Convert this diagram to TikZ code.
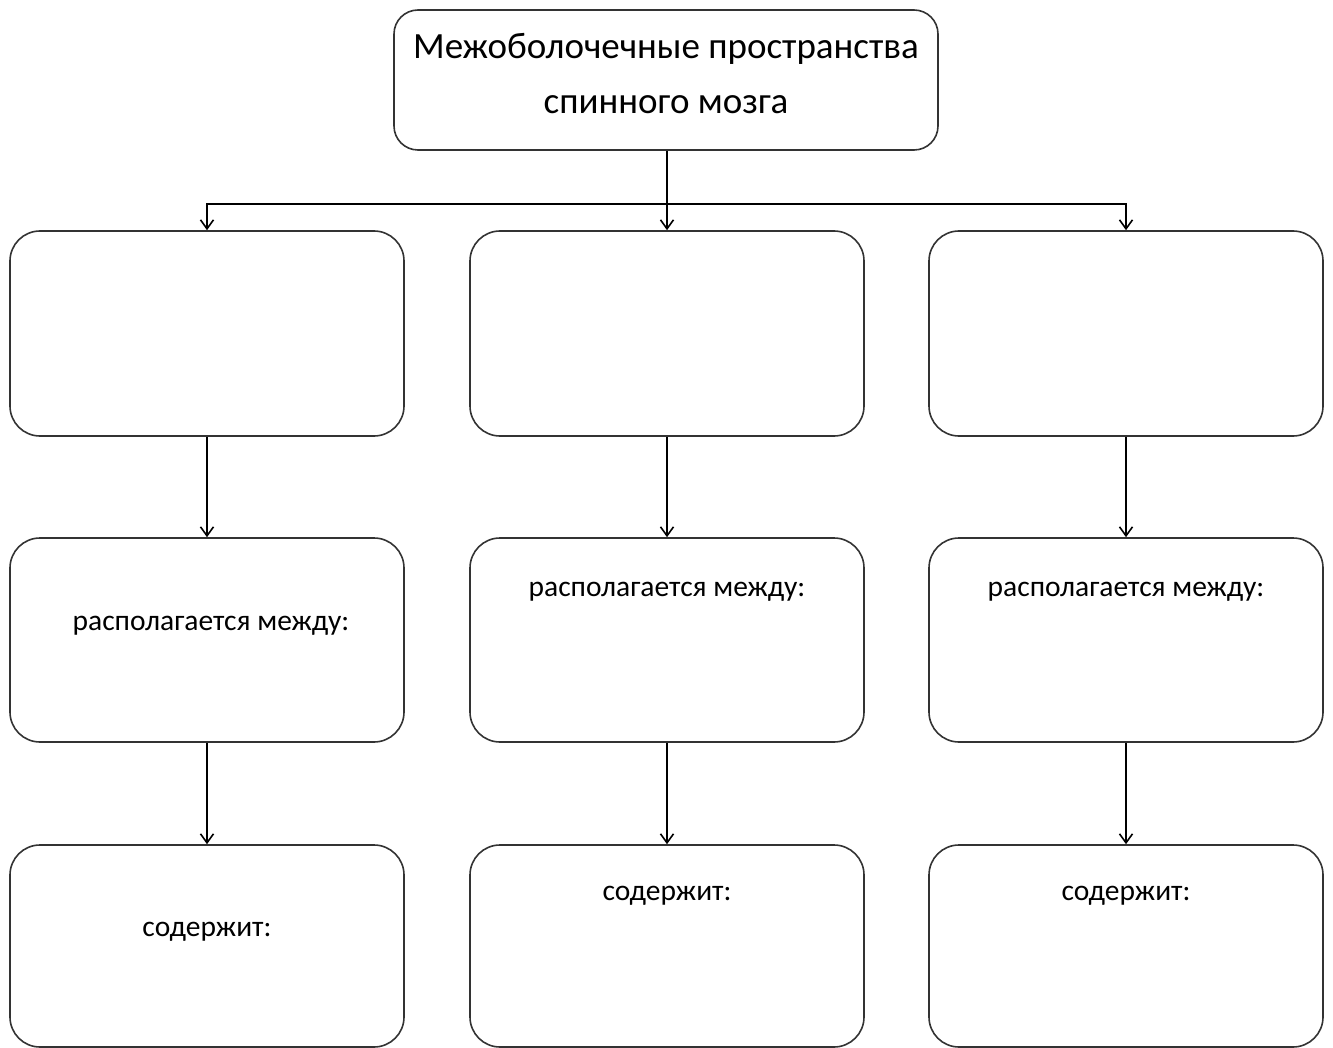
\documentclass[tikz,border=0pt]{standalone}
\usepackage{fontspec}
\setmainfont{Carlito}
\usetikzlibrary{arrows.meta}
\begin{document}
\begin{tikzpicture}[x=1pt,y=-1pt,
  box/.style={draw=black!80, line width=1.6pt, rounded corners=30pt, minimum width=394pt, inner sep=0pt},
  topbox/.style={draw=black!80, line width=1.6pt, rounded corners=24pt, minimum width=544pt, minimum height=140pt, inner sep=0pt},
  conn/.style={draw=black, line width=1.6pt},
  arr/.style={conn, -{Straight Barb[length=9pt,width=13pt]}},
  ttl/.style={font=\fontsize{37}{55}\selectfont, align=center, inner sep=0pt},
  lbl/.style={font=\fontsize{29.5}{32}\selectfont, inner sep=0pt}
]
\useasboundingbox (0,0) rectangle (1333,1048);
\node[topbox] (top) at (666,80) {};
\node[ttl] (title) at (666,74) {Межоболочечные пространства\\спинного мозга};
% row 1
\node[box, minimum height=205pt] (a1) at (207,333.5) {};
\node[box, minimum height=205pt] (b1) at (667,333.5) {};
\node[box, minimum height=205pt] (c1) at (1126,333.5) {};
% row 2
\node[box, minimum height=204pt] (a2) at (207,640) {};
\node[box, minimum height=204pt] (b2) at (667,640) {};
\node[box, minimum height=204pt] (c2) at (1126,640) {};
% row 3
\node[box, minimum height=202pt] (a3) at (207,946) {};
\node[box, minimum height=202pt] (b3) at (667,946) {};
\node[box, minimum height=202pt] (c3) at (1126,946) {};
% labels
\node[lbl] (ta2) at (211,626) {располагается между:};
\node[lbl] (tb2) at (667,592) {располагается между:};
\node[lbl] (tc2) at (1126,592) {располагается между:};
\node[lbl] (ta3) at (207,932) {содержит:};
\node[lbl] (tb3) at (667,896) {содержит:};
\node[lbl] (tc3) at (1126,896) {содержит:};
% connectors
\coordinate (J) at (667,204);
\draw[conn] (top.south -| J) -- (J);
\draw[arr] (J) -| (a1.north);
\draw[arr] (J) -- (b1.north);
\draw[arr] (J) -| (c1.north);
\draw[arr] (a1) -- (a2);
\draw[arr] (b1) -- (b2);
\draw[arr] (c1) -- (c2);
\draw[arr] (a2) -- (a3);
\draw[arr] (b2) -- (b3);
\draw[arr] (c2) -- (c3);
\end{tikzpicture}
\end{document}
